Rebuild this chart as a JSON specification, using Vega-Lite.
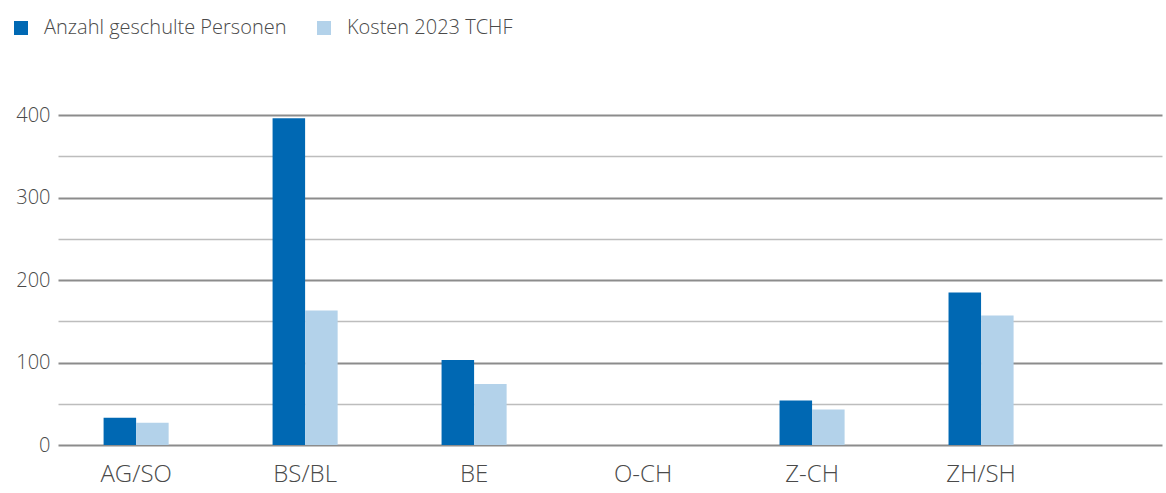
{
  "$schema": "https://vega.github.io/schema/vega-lite/v6.json",
  "autosize": {"type": "none"},
  "width": 1104,
  "height": 330,
  "padding": {"left": 58, "top": 115, "right": 4, "bottom": 48},
  "background": "white",
  "config": {
    "view": {"stroke": null},
    "font": "Open Sans"
  },
  "data": {
    "values": [
      {"region": "AG/SO", "serie": "Anzahl geschulte Personen", "wert": 33},
      {"region": "AG/SO", "serie": "Kosten 2023 TCHF", "wert": 27},
      {"region": "BS/BL", "serie": "Anzahl geschulte Personen", "wert": 396},
      {"region": "BS/BL", "serie": "Kosten 2023 TCHF", "wert": 163},
      {"region": "BE", "serie": "Anzahl geschulte Personen", "wert": 103},
      {"region": "BE", "serie": "Kosten 2023 TCHF", "wert": 74},
      {"region": "O-CH", "serie": "Anzahl geschulte Personen", "wert": 0},
      {"region": "O-CH", "serie": "Kosten 2023 TCHF", "wert": 0},
      {"region": "Z-CH", "serie": "Anzahl geschulte Personen", "wert": 54},
      {"region": "Z-CH", "serie": "Kosten 2023 TCHF", "wert": 43},
      {"region": "ZH/SH", "serie": "Anzahl geschulte Personen", "wert": 185},
      {"region": "ZH/SH", "serie": "Kosten 2023 TCHF", "wert": 157}
    ]
  },
  "mark": {"type": "bar"},
  "encoding": {
    "x": {
      "field": "region",
      "type": "nominal",
      "sort": null,
      "scale": {"paddingInner": 0.615, "paddingOuter": 0.574, "align": 0.235, "round": false},
      "axis": {
        "title": null,
        "labelAngle": 0,
        "labelFontSize": 24,
        "labelFontWeight": 300,
        "labelColor": "#4a4a4a",
        "labelBaseline": "top",
        "labelPadding": 17,
        "ticks": false,
        "domain": false,
        "grid": false
      }
    },
    "xOffset": {
      "field": "serie",
      "type": "nominal",
      "sort": ["Anzahl geschulte Personen", "Kosten 2023 TCHF"],
      "scale": {"paddingInner": 0, "paddingOuter": 0}
    },
    "y": {
      "field": "wert",
      "type": "quantitative",
      "scale": {"domain": [0, 400], "nice": false},
      "axis": {
        "title": null,
        "values": [0, 50, 100, 150, 200, 250, 300, 350, 400],
        "labelExpr": "datum.value % 100 === 0 ? datum.label : ''",
        "labelFontSize": 20,
        "labelFontWeight": 300,
        "labelColor": "#4a4a4a",
        "labelPadding": 8,
        "ticks": false,
        "domain": false,
        "grid": true,
        "gridColor": {"condition": {"test": "datum.value % 100 === 0", "value": "#8c8c8c"}, "value": "#bdbdbd"},
        "gridWidth": {"condition": {"test": "datum.value % 100 === 0", "value": 2}, "value": 1.5}
      }
    },
    "color": {
      "field": "serie",
      "type": "nominal",
      "sort": ["Anzahl geschulte Personen", "Kosten 2023 TCHF"],
      "scale": {"range": ["#0068b3", "#b3d2ea"]},
      "legend": {
        "title": null,
        "orient": "none",
        "direction": "horizontal",
        "legendX": -47,
        "legendY": -97,
        "symbolType": "square",
        "symbolSize": 196,
        "symbolStrokeWidth": 0,
        "symbolOpacity": 1,
        "labelFontSize": 20,
        "labelFontWeight": 300,
        "labelColor": "#4a4a4a",
        "labelOffset": 13,
        "columnPadding": 27,
        "labelLimit": 400
      }
    }
  }
}
